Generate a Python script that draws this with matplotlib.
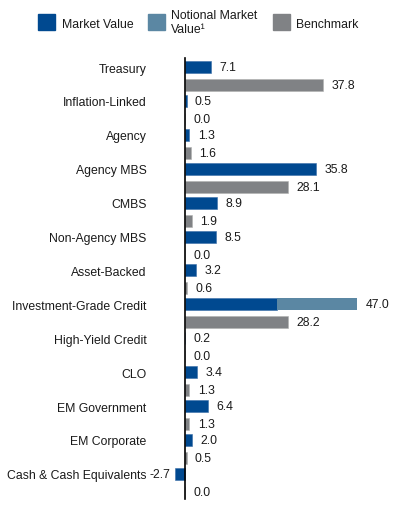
import matplotlib
matplotlib.use("Agg")
import matplotlib.pyplot as plt
from matplotlib.patches import Rectangle

plt.rcParams['font.family'] = ['Liberation Sans', 'DejaVu Sans']

# data
categories = ["Treasury", "Inflation-Linked", "Agency", "Agency MBS", "CMBS",
              "Non-Agency MBS", "Asset-Backed", "Investment-Grade Credit",
              "High-Yield Credit", "CLO", "EM Government", "EM Corporate",
              "Cash & Cash Equivalents"]
market_value = [7.1, 0.5, 1.3, 35.8, 8.9, 8.5, 3.2, 25.2, 0.2, 3.4, 6.4, 2.0, -2.7]
notional = [0, 0, 0, 0, 0, 0, 0, 21.8, 0, 0, 0, 0, 0]
benchmark = [37.8, 0.0, 1.6, 28.1, 1.9, 0.0, 0.6, 28.2, 0.0, 1.3, 1.3, 0.5, 0.0]

c_mv = "#004990"
c_not = "#5b87a3"
c_bm = "#808285"

fig = plt.figure(figsize=(3.99, 5.06), dpi=100)
ax = fig.add_axes([0.4629, 0.01186, 0.5371, 0.8715])

ypos = list(range(len(categories)))
ybm = [y + 0.53 for y in ypos]
h = 0.354

ax.barh(ypos, market_value, height=h, color=c_mv, edgecolor="#3a6ea8", linewidth=0.4, clip_on=False)
ax.barh(ypos, notional, left=market_value, height=h, color=c_not, linewidth=0, clip_on=False)
ax.barh(ybm, benchmark, height=h, color=c_bm, edgecolor="#b0b0b0", linewidth=0.4, clip_on=False)

# value labels
for y, mv, nv in zip(ypos, market_value, notional):
    total = mv + nv
    if total < 0:
        ax.annotate("%.1f" % total, (total, y), xytext=(-3.5, 0), textcoords="offset points",
                    ha="right", va="center", fontsize=8.8, color="#1a1a1a", annotation_clip=False)
    else:
        ax.annotate("%.1f" % total, (total, y), xytext=(6, 0), textcoords="offset points",
                    ha="left", va="center", fontsize=8.8, color="#1a1a1a", annotation_clip=False)
for y, b in zip(ybm, benchmark):
    ax.annotate("%.1f" % b, (b, y), xytext=(6, 0), textcoords="offset points",
                ha="left", va="center", fontsize=8.8, color="#1a1a1a", annotation_clip=False)

ax.set_xlim(0, 58.4)
ax.set_ylim(12.74, -0.265)
ax.set_yticks(ypos)
ax.set_yticklabels(categories, fontsize=8.8, color="#1a1a1a")
ax.tick_params(axis="y", length=0, pad=27.4)
ax.set_xticks([])
for s in ["top", "right", "bottom"]:
    ax.spines[s].set_visible(False)
ax.spines["left"].set_color("black")
ax.spines["left"].set_linewidth(1.2)
ax.set_facecolor("none")

# legend
W, H = 399.0, 506.0
def rect(x, y, w, hh, c):
    fig.add_artist(Rectangle((x / W, 1 - (y + hh) / H), w / W, hh / H,
                             transform=fig.transFigure, color=c))

rect(38, 15, 17, 15.5, c_mv)
rect(148, 15, 17, 15.5, c_not)
rect(273, 15, 17, 15.5, c_bm)
fig.text(62 / W, 1 - 25 / H, "Market Value", fontsize=8.8, va="center", color="#1a1a1a")
fig.text(171 / W, 1 - 16 / H, "Notional Market", fontsize=8.8, va="center", color="#1a1a1a")
fig.text(171 / W, 1 - 30 / H, "Value\u00b9", fontsize=8.8, va="center", color="#1a1a1a")
fig.text(296 / W, 1 - 25 / H, "Benchmark", fontsize=8.8, va="center", color="#1a1a1a")

fig.savefig("out.png", dpi=100)
